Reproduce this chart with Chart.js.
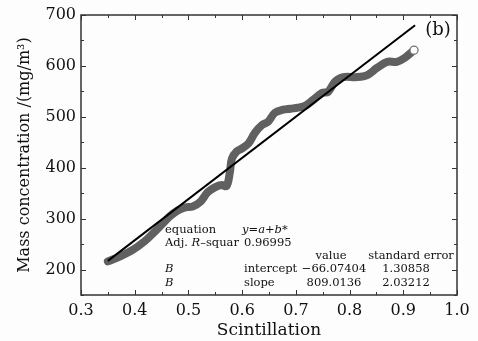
<!DOCTYPE html>
<html>
<head>
<meta charset="utf-8">
<script src="https://cdn.jsdelivr.net/npm/chart.js@4.4.0/dist/chart.umd.min.js"></script>
<style>
  html, body { margin: 0; padding: 0; background: #fdfdfd; }
  #wrap { width: 478px; height: 341px; }
</style>
</head>
<body>
<div id="wrap"><canvas id="chart-scint"></canvas></div>
<script>
const scintX = [0.350, 0.373, 0.397, 0.419, 0.435, 0.450, 0.466, 0.480, 0.494, 0.508,
  0.522, 0.536, 0.550, 0.562, 0.571, 0.577, 0.581, 0.590, 0.600, 0.612,
  0.624, 0.637, 0.648, 0.661, 0.676, 0.690, 0.704, 0.718, 0.732, 0.749,
  0.760, 0.773, 0.788, 0.814, 0.833, 0.851, 0.870, 0.888, 0.903, 0.920];
const massY = [216, 226, 239, 256, 272, 288, 305, 316, 322, 324,
  333, 352, 362, 366, 364, 390, 418, 432, 438, 448,
  469, 484, 490, 508, 514, 516, 518, 522, 533, 547,
  549, 569, 578, 578, 582, 596, 608, 608, 616, 631];

// linear fit y = a + b*x
const fitA = -66.07404;
const fitB = 809.0136;
const fitX = [0.35, 0.922];

const xTicks = [0.3, 0.4, 0.5, 0.6, 0.7, 0.8, 0.9, 1.0];
const xMinor = [0.35, 0.45, 0.55, 0.65, 0.75, 0.85, 0.95];
const yTicks = [200, 300, 400, 500, 600, 700];
const yMinor = [150, 250, 350, 450, 550, 650];

const serif = '"DejaVu Serif", serif';

const curve = scintX.map((x, i) => ({ x, y: massY[i] }));
const fitLine = fitX.map(x => ({ x, y: fitA + fitB * x }));

const frameTicks = {
  id: 'frameTicks',
  beforeDraw(chart) {
    const c = chart.ctx;
    c.save();
    c.fillStyle = '#fdfdfd';
    c.fillRect(0, 0, chart.width, chart.height);
    c.restore();
  },
  afterDraw(chart) {
    const { ctx: c, chartArea: a, scales: { x, y } } = chart;
    c.save();
    c.strokeStyle = '#333';
    c.lineWidth = 1.5;
    c.strokeRect(a.left, a.top, a.right - a.left, a.bottom - a.top);
    c.lineWidth = 1;
    const tx = (v, len) => {
      const p = Math.round(x.getPixelForValue(v)) + 0.5;
      c.beginPath();
      c.moveTo(p, a.bottom); c.lineTo(p, a.bottom - len);
      c.moveTo(p, a.top); c.lineTo(p, a.top + len);
      c.stroke();
    };
    const ty = (v, len) => {
      const p = Math.round(y.getPixelForValue(v)) + 0.5;
      c.beginPath();
      c.moveTo(a.left, p); c.lineTo(a.left + len, p);
      c.moveTo(a.right, p); c.lineTo(a.right - len, p);
      c.stroke();
    };
    xTicks.forEach(v => tx(v, 5));
    xMinor.forEach(v => tx(v, 3));
    yTicks.forEach(v => ty(v, 5));
    yMinor.forEach(v => ty(v, 3));

    // fit report
    c.fillStyle = '#111';
    c.textBaseline = 'middle';
    const norm = '11.5px ' + serif;
    const ital = 'italic 11.5px ' + serif;
    const put = (txt, px, py, font, align) => {
      c.font = font;
      c.textAlign = align || 'left';
      c.fillText(txt, px, py);
      return c.measureText(txt).width;
    };
    put('equation', 165, 230, norm);
    put('y=a+b*', 242, 230, ital);
    let w = put('Adj. ', 165, 243, norm);
    w += put('R', 165 + w, 243, ital);
    put('\u2013squar', 165 + w, 243, norm);
    put('0.96995', 244, 243, norm);
    put('value', 331, 256, norm, 'center');
    put('standard error', 411, 256, norm, 'center');
    put('B', 165, 269, ital);
    put('intercept', 244, 269, norm);
    put('\u221266.07404', 334, 269, norm, 'center');
    put('1.30858', 406, 269, norm, 'center');
    put('B', 165, 283, ital);
    put('slope', 244, 283, norm);
    put('809.0136', 334, 283, norm, 'center');
    put('2.03212', 406, 283, norm, 'center');

    put('(b)', 438, 30, '18px ' + serif, 'center');
    c.restore();
  }
};

new Chart(document.getElementById('chart-scint'), {
  type: 'scatter',
  data: {
    datasets: [
      {
        label: 'fit',
        data: fitLine,
        showLine: true,
        borderColor: '#000',
        borderWidth: 2,
        pointRadius: 0
      },
      {
        label: 'data',
        data: curve,
        showLine: true,
        borderColor: '#606060',
        borderWidth: 8,
        tension: 0.35,
        borderCapStyle: 'round',
        borderJoinStyle: 'round',
        pointRadius: ctx => ctx.dataIndex === curve.length - 1 ? 4 : 0,
        pointBackgroundColor: '#fff',
        pointBorderColor: '#777',
        pointBorderWidth: 1.2
      }
    ]
  },
  options: {
    responsive: true,
    maintainAspectRatio: false,
    animation: false,
    layout: { padding: { left: 0, top: 15, right: 21, bottom: 0 } },
    plugins: { legend: { display: false }, tooltip: { enabled: false } },
    scales: {
      x: {
        type: 'linear',
        min: 0.3,
        max: 1.0,
        afterBuildTicks: s => { s.ticks = xTicks.map(v => ({ value: v })); },
        afterFit: s => { s.height = 46; },
        grid: { display: false, drawTicks: false },
        border: { display: false },
        ticks: {
          color: '#111',
          padding: 6,
          font: { family: serif, size: 16 },
          callback: v => v.toFixed(1)
        },
        title: {
          display: true,
          text: 'Scintillation',
          color: '#111',
          padding: { top: 0, bottom: 0 },
          font: { family: serif, size: 17 }
        }
      },
      y: {
        type: 'linear',
        min: 150,
        max: 700,
        afterBuildTicks: s => { s.ticks = yTicks.map(v => ({ value: v })); },
        afterFit: s => { s.width = 81; },
        grid: { display: false, drawTicks: false },
        border: { display: false },
        ticks: {
          color: '#111',
          padding: 5,
          font: { family: serif, size: 16 }
        },
        title: {
          display: true,
          text: 'Mass concentration /(mg/m\u00b3)',
          color: '#111',
          padding: { top: 15, bottom: 0 },
          font: { family: serif, size: 16 }
        }
      }
    }
  },
  plugins: [frameTicks]
});
</script>
</body>
</html>
